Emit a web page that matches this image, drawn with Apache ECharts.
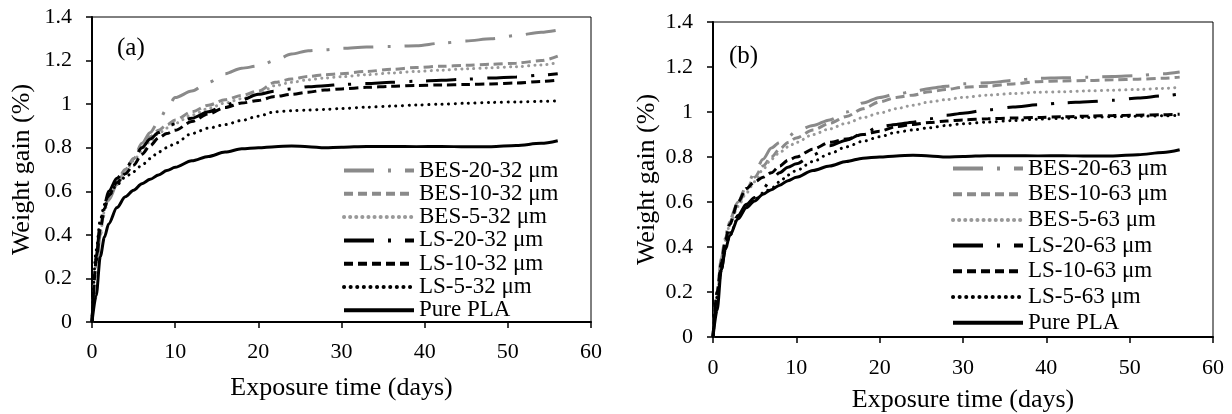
<!DOCTYPE html>
<html>
<head>
<meta charset="utf-8">
<script src="https://cdn.jsdelivr.net/npm/echarts@6/dist/echarts.min.js"></script>
<style>
html,body{margin:0;padding:0;background:#fff;}
#c{width:1232px;height:414px;}
</style>
</head>
<body>
<div id="c"></div>
<script>
const days = [0, 0.5, 1, 1.5, 2, 3, 4, 5, 6, 7, 8, 9, 10, 12, 14, 16, 18, 20, 22, 24, 26, 28, 30, 33, 36, 39, 42, 45, 48, 51, 54, 56];

const xTicks = [0, 10, 20, 30, 40, 50, 60];
const yTicks = [0, 0.2, 0.4, 0.6, 0.8, 1, 1.2, 1.4];

// Panel (a): 32 um
const bes20_32 = [0,0.25,0.4,0.5,0.56,0.63,0.69,0.75,0.82,0.87,0.92,0.98,1.03,1.06,1.10,1.14,1.165,1.175,1.20,1.23,1.245,1.25,1.256,1.262,1.265,1.268,1.28,1.29,1.30,1.315,1.33,1.34];
const bes10_32 = [0,0.27,0.42,0.52,0.58,0.65,0.70,0.75,0.80,0.85,0.88,0.905,0.927,0.965,0.995,1.02,1.04,1.06,1.10,1.115,1.127,1.135,1.14,1.15,1.16,1.168,1.174,1.178,1.183,1.188,1.20,1.22];
const bes5_32  = [0,0.26,0.41,0.51,0.57,0.64,0.69,0.74,0.785,0.83,0.865,0.89,0.912,0.95,0.98,1.005,1.025,1.045,1.085,1.10,1.112,1.12,1.126,1.135,1.143,1.15,1.156,1.162,1.167,1.172,1.18,1.19];
const ls20_32  = [0,0.3,0.45,0.54,0.6,0.66,0.7,0.75,0.8,0.84,0.87,0.895,0.91,0.935,0.965,0.995,1.02,1.045,1.06,1.07,1.08,1.085,1.09,1.095,1.10,1.105,1.11,1.115,1.12,1.125,1.133,1.14];
const ls10_32  = [0,0.28,0.43,0.52,0.58,0.64,0.68,0.72,0.77,0.81,0.845,0.865,0.88,0.92,0.955,0.985,1.005,1.017,1.035,1.045,1.055,1.065,1.07,1.077,1.082,1.086,1.088,1.09,1.093,1.097,1.104,1.11];
const ls5_32   = [0,0.33,0.47,0.54,0.58,0.63,0.665,0.69,0.72,0.75,0.78,0.80,0.82,0.865,0.89,0.906,0.925,0.945,0.965,0.97,0.973,0.976,0.98,0.986,0.991,0.996,1.0,1.004,1.008,1.01,1.013,1.015];
const purePLA  = [0,0.12,0.3,0.39,0.45,0.525,0.575,0.605,0.635,0.655,0.675,0.695,0.71,0.74,0.76,0.78,0.795,0.80,0.805,0.808,0.805,0.80,0.802,0.806,0.806,0.805,0.806,0.804,0.805,0.81,0.82,0.832];

// Panel (b): 63 um
const bes20_63 = [0,0.2,0.35,0.45,0.52,0.6,0.67,0.73,0.79,0.84,0.865,0.89,0.915,0.94,0.965,1.0,1.04,1.065,1.08,1.09,1.105,1.115,1.125,1.13,1.14,1.15,1.152,1.155,1.158,1.162,1.17,1.178];
const bes10_63 = [0,0.2,0.34,0.44,0.51,0.59,0.655,0.71,0.76,0.8,0.835,0.865,0.885,0.92,0.95,0.98,1.015,1.045,1.065,1.075,1.09,1.1,1.11,1.115,1.125,1.135,1.138,1.14,1.143,1.146,1.15,1.155];
const bes5_63  = [0,0.19,0.33,0.43,0.5,0.58,0.64,0.69,0.745,0.79,0.82,0.845,0.865,0.9,0.925,0.95,0.975,0.995,1.015,1.03,1.045,1.055,1.065,1.075,1.082,1.088,1.09,1.094,1.097,1.1,1.105,1.11];
const ls20_63  = [0,0.18,0.3,0.4,0.46,0.54,0.59,0.62,0.66,0.7,0.73,0.755,0.77,0.81,0.85,0.875,0.905,0.935,0.945,0.955,0.97,0.985,0.995,1.01,1.022,1.032,1.04,1.046,1.052,1.062,1.072,1.08];
const ls10_63  = [0,0.2,0.33,0.43,0.5,0.6,0.66,0.69,0.71,0.73,0.76,0.785,0.8,0.835,0.865,0.88,0.9,0.915,0.935,0.945,0.953,0.96,0.965,0.97,0.973,0.976,0.979,0.982,0.984,0.986,0.988,0.99];
const ls5_63   = [0,0.18,0.3,0.39,0.45,0.53,0.58,0.61,0.64,0.66,0.69,0.72,0.74,0.78,0.815,0.845,0.87,0.89,0.91,0.92,0.93,0.94,0.948,0.955,0.962,0.968,0.972,0.976,0.979,0.981,0.983,0.985];

const namesA = ['BES-20-32 μm','BES-10-32 μm','BES-5-32 μm','LS-20-32 μm','LS-10-32 μm','LS-5-32 μm','Pure PLA'];
const namesB = ['BES-20-63 μm','BES-10-63 μm','BES-5-63 μm','LS-20-63 μm','LS-10-63 μm','LS-5-63 μm','Pure PLA '];
const valsA = [bes20_32, bes10_32, bes5_32, ls20_32, ls10_32, ls5_32, purePLA];
const valsB = [bes20_63, bes10_63, bes5_63, ls20_63, ls10_63, ls5_63, purePLA];

const FONT = "'Liberation Serif','Times New Roman',serif";
const GRAY = '#8a8a8a';
const styles = [
  {color: GRAY, width: 3, type: [30, 14, 3, 14], cap: 'butt'},
  {color: GRAY, width: 3, type: [9, 5], cap: 'butt'},
  {color: '#999', width: 3, type: [0.1, 6], cap: 'round'},
  {color: '#000', width: 3, type: [30, 14, 3, 14], cap: 'butt'},
  {color: '#000', width: 3, type: [9, 5], cap: 'butt'},
  {color: '#000', width: 3, type: [0.1, 6.5], cap: 'round'},
  {color: '#000', width: 3, type: 'solid', cap: 'butt'}
];

function mkSeries(names, vals, idx) {
  return names.map((n, i) => ({
    name: n, type: 'line', xAxisIndex: idx, yAxisIndex: idx,
    data: days.map((d, k) => [d, vals[i][k]]),
    showSymbol: false, symbol: 'none', smooth: 0.3, smoothMonotone: 'x',
    color: styles[i].color,
    lineStyle: {color: styles[i].color, width: styles[i].width, type: styles[i].type, cap: styles[i].cap},
    animation: false, silent: true
  }));
}

function mkX(idx) {
  return {
    gridIndex: idx, type: 'value', min: xTicks[0], max: xTicks[xTicks.length-1], interval: 10,
    name: 'Exposure time (days)', nameLocation: 'middle', nameGap: idx === 0 ? 53 : 50,
    nameTextStyle: {fontFamily: FONT, fontSize: 26, color: '#000'},
    axisLine: {show: true, onZero: false, lineStyle: {color: '#000', width: 2}},
    axisTick: {show: true, inside: false, length: 6, lineStyle: {color: '#000', width: 1.5}},
    axisLabel: {fontFamily: FONT, fontSize: 22, color: '#000', margin: idx === 0 ? 19 : 20},
    splitLine: {show: false}
  };
}
function mkY(idx) {
  return {
    gridIndex: idx, type: 'value', min: yTicks[0], max: yTicks[yTicks.length-1], interval: 0.2,
    name: 'Weight gain (%)', nameLocation: 'middle', nameGap: idx === 0 ? 57 : 53,
    nameTextStyle: {fontFamily: FONT, fontSize: 26, color: '#000'},
    axisLine: {show: true, onZero: false, lineStyle: {color: '#000', width: 2}},
    axisTick: {show: true, inside: false, length: 6, lineStyle: {color: '#000', width: 1.5}},
    axisLabel: {fontFamily: FONT, fontSize: 22, color: '#000', margin: 20},
    splitLine: {show: false}
  };
}
function mkLegend(names, left, top, gap) {
  return {
    data: names, orient: 'vertical', left: left, top: top,
    itemWidth: 70, itemHeight: 14, itemGap: gap, padding: 0,
    selectedMode: false,
    itemStyle: {color: 'rgba(0,0,0,0)', borderWidth: 0, opacity: 0},
    lineStyle: {width: 4},
    textStyle: {fontFamily: FONT, fontSize: 23, color: '#000', lineHeight: 22, padding: [0,0,0,0]}
  };
}

const chart = echarts.init(document.getElementById('c'), null, {renderer: 'canvas'});
chart.setOption({
  backgroundColor: '#fff',
  animation: false,
  grid: [
    {left: 92, top: 17, width: 499, height: 305, show: true, borderColor: '#000', borderWidth: 1, containLabel: false, outerBoundsMode: 'none'},
    {left: 713, top: 22, width: 500, height: 315, show: true, borderColor: '#000', borderWidth: 1, containLabel: false, outerBoundsMode: 'none'}
  ],
  xAxis: [mkX(0), mkX(1)],
  yAxis: [mkY(0), mkY(1)],
  legend: [mkLegend(namesA, 342, 159, 0.3), mkLegend(namesB, 951, 157, 2.7)],
  graphic: [
    {type: 'text', left: 117, top: 36, style: {text: '(a)', font: "25px 'Liberation Serif'", fill: '#000'}},
    {type: 'text', left: 729, top: 44, style: {text: '(b)', font: "25px 'Liberation Serif'", fill: '#000'}}
  ],
  series: mkSeries(namesA, valsA, 0).concat(mkSeries(namesB, valsB, 1))
});
</script>
</body>
</html>
